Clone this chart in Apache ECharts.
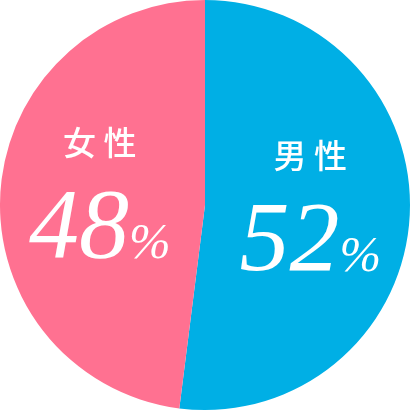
<!DOCTYPE html>
<html>
<head>
<meta charset="utf-8">
<script src="https://cdn.jsdelivr.net/npm/echarts@6/dist/echarts.min.js"></script>
<style>
  html, body { margin: 0; padding: 0; background: #fff; }
  #chart { width: 410px; height: 410px; }
</style>
</head>
<body>
<div id="chart"></div>
<script>
// 男女比
const names = ['男性', '女性'];
const values = [52, 48];
const colors = ['#00AFE5', '#FF7191'];

const myChart = echarts.init(document.getElementById('chart'));

myChart.setOption({
  animation: false,
  series: [{
    type: 'pie',
    center: ['50%', '50%'],
    radius: [0, 205],
    startAngle: 90,
    clockwise: true,
    silent: true,
    label: {
      show: true,
      position: 'inside',
      color: '#fff',
      formatter: p => '{name|' + p.name.split('').join(' ') + '}\n{num|' + p.value + '}{pct|%}',
      rich: {
        name: { fontFamily: 'Noto Sans CJK JP', fontWeight: 500, fontSize: 33, color: '#fff', lineHeight: 40 },
        num: { fontFamily: 'Liberation Serif', fontStyle: 'italic', fontSize: 100, color: '#fff', lineHeight: 136 },
        pct: { fontFamily: 'Liberation Serif', fontStyle: 'italic', fontSize: 50, color: '#fff', lineHeight: 50, verticalAlign: 'middle', padding: [28, 0, 0, 0] }
      }
    },
    labelLayout: { dy: 12 },
    labelLine: { show: false },
    itemStyle: { borderWidth: 0 },
    data: names.map((n, i) => ({ name: n, value: values[i], itemStyle: { color: colors[i] } }))
  }]
});
</script>
</body>
</html>
